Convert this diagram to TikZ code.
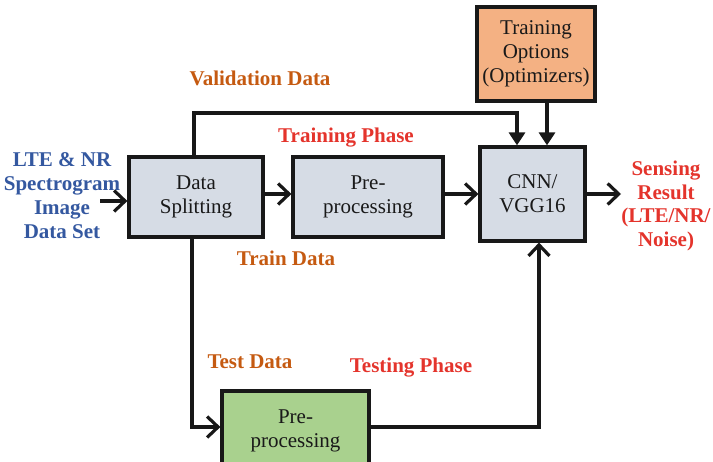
\documentclass[tikz,border=0pt]{standalone}
\usepackage{fontspec}
\setmainfont{Liberation Serif}
\usetikzlibrary{arrows.meta,calc}

\definecolor{boxgray}{RGB}{214,220,229}
\definecolor{boxorange}{RGB}{244,177,131}
\definecolor{boxgreen}{RGB}{169,209,142}
\definecolor{lblblue}{RGB}{52,88,160}
\definecolor{lblbrown}{RGB}{197,90,17}
\definecolor{lblred}{RGB}{228,52,44}
\definecolor{inkline}{RGB}{24,24,24}

\tikzset{
  blockbox/.style={draw=inkline, line width=3.2pt, inner sep=0pt, align=center,
    font=\fontsize{21}{24}\selectfont, text=black!90},
  flow/.style={draw=inkline, line width=3.2pt,
    -{Straight Barb[length=11pt,width=21pt,line width=3.2pt]}},
  feed/.style={draw=inkline, line width=3.2pt,
    -{Triangle[length=13pt,width=16pt]}},
  lbl/.style={font=\fontsize{21}{24}\selectfont\bfseries, inner sep=0pt, align=center},
}

\begin{document}
\begin{tikzpicture}[x=1pt, y=-1pt]
  \useasboundingbox (0,0) rectangle (713,462);
  \clip (0,0) rectangle (713,462);

  % processing blocks
  \node[blockbox, fill=boxgray, minimum width=134pt, minimum height=80pt]
    (split) at (196,197) {Data\\Splitting};
  \node[blockbox, fill=boxgray, minimum width=150pt, minimum height=80pt]
    (pretrain) at (368,197) {Pre-\\processing};
  \node[blockbox, fill=boxgray, minimum width=105pt, minimum height=94pt]
    (cnn) at (532.5,194) {CNN/\\VGG16};
  \node[blockbox, fill=boxorange, minimum width=118pt, minimum height=94pt]
    (opts) at (536,54) {Training\\Options\\(Optimizers)};
  \node[blockbox, fill=boxgreen, minimum width=147pt, minimum height=80pt]
    (pretest) at (295.5,431) {Pre-\\processing};

  % routing points
  \coordinate (src) at (100,201);
  \coordinate (vtop) at (194,113);
  \coordinate (vin) at (517,113);
  \coordinate (optx) at (547,0);
  \coordinate (tdown) at (192,427);
  \coordinate (tright) at (539,427);
  \coordinate (res) at (621,194);
  \coordinate (mainy) at (0,194);

  % connectors
  \draw[flow] (src) -- (src -| split.west);
  \draw[flow] (split.east |- mainy) -- (pretrain.west |- mainy);
  \draw[flow] (pretrain.east |- mainy) -- (cnn.west |- mainy);
  \draw[flow] (cnn.east |- mainy) -- (res);
  \draw[feed] (vtop |- split.north) -- (vtop) -- (vin) -- (vin |- cnn.north);
  \draw[feed] (optx |- opts.south) -- (optx |- cnn.north);
  \draw[flow] (tdown |- split.south) -- (tdown) -- (tdown -| pretest.west);
  \draw[flow] (tdown -| pretest.east) -- (tright) -- (tright |- cnn.south);

  % labels
  \node[lbl, text=lblblue, anchor=north] (inlbl) at (62,152)
    {LTE \& NR\\Spectrogram\\Image\\Data Set};
  \node[lbl, text=lblred, anchor=north, font=\fontsize{21}{23.5}\selectfont\bfseries]
    (reslbl) at (666,161) {Sensing\\Result\\(LTE/NR/\\Noise)};
  \node[lbl, text=lblbrown, anchor=base] (vallbl) at (260,86) {Validation Data};
  \node[lbl, text=lblred, anchor=base] (trphase) at (346,143) {Training Phase};
  \node[lbl, text=lblbrown, anchor=base] (trlbl) at (286,266) {Train Data};
  \node[lbl, text=lblbrown, anchor=base] (testlbl) at (250,369) {Test Data};
  \node[lbl, text=lblred, anchor=base] (tsphase) at (411,373) {Testing Phase};
\end{tikzpicture}
\end{document}
